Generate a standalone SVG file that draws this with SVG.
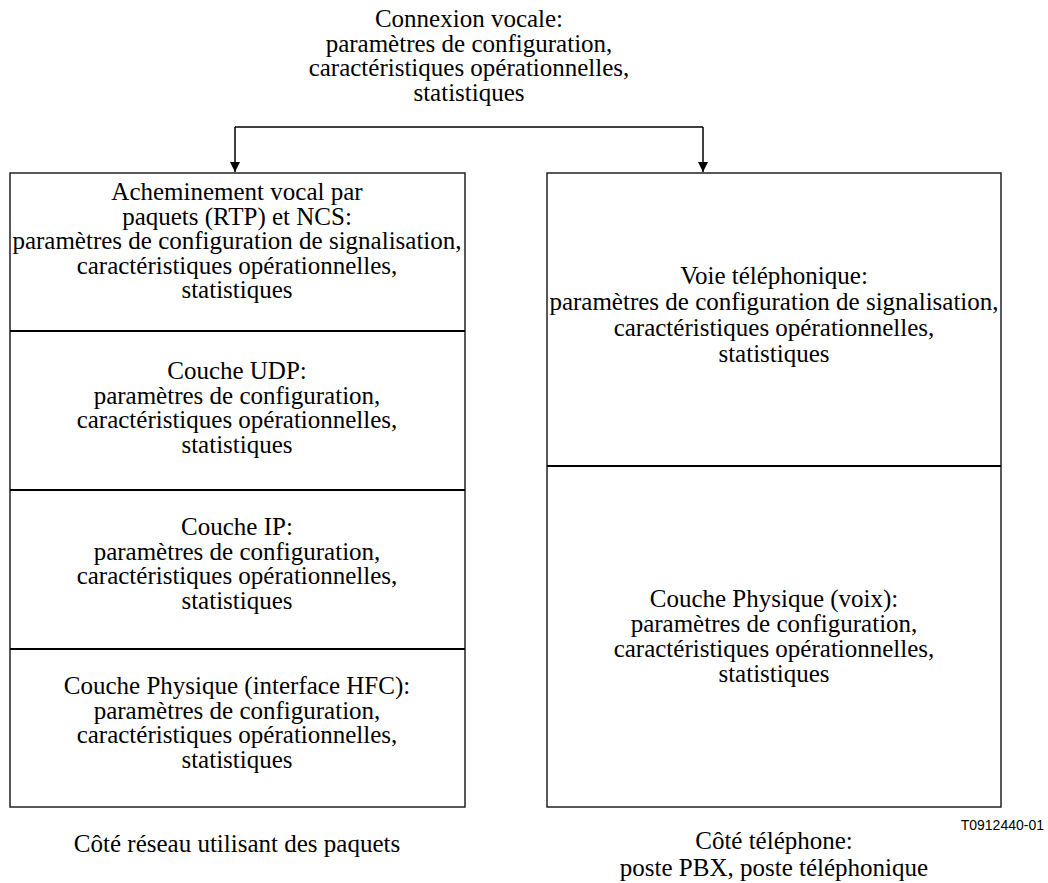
<svg xmlns="http://www.w3.org/2000/svg" width="1048" height="883" viewBox="0 0 1048 883">
  <style>
    .t { font-family: "Liberation Serif", "Times New Roman", serif; font-size: 25px; fill: #000; text-anchor: middle; }
    .code { font-family: "Liberation Sans", Arial, sans-serif; font-size: 14px; fill: #000; text-anchor: end; }
    .box { fill: #fff; stroke: #222; stroke-width: 1.5; }
    .div { stroke: #000; stroke-width: 2; }
    .conn { fill: none; stroke: #000; stroke-width: 1.5; }
  </style>
  <defs>
    <marker id="arrow" markerWidth="10" markerHeight="12" refX="10" refY="6" orient="auto" markerUnits="userSpaceOnUse">
      <path d="M0,1 L10,6 L0,11 Z" fill="#000"/>
    </marker>
  </defs>
  <rect width="1048" height="883" fill="#fff"/>

  <g id="source">
    <text class="t" x="469" y="27">Connexion vocale:</text>
    <text class="t" x="469" y="51.5">paramètres de configuration,</text>
    <text class="t" x="469" y="76">caractéristiques opérationnelles,</text>
    <text class="t" x="469" y="100.5">statistiques</text>
  </g>

  <g id="connectors">
    <path class="conn" d="M235,127 H703"/>
    <path class="conn" d="M235,127 V172" marker-end="url(#arrow)"/>
    <path class="conn" d="M703,127 V172" marker-end="url(#arrow)"/>
  </g>

  <g id="packet-side">
    <rect class="box" x="10" y="173" width="455" height="634"/>
    <line class="div" x1="10" y1="331" x2="465" y2="331"/>
    <line class="div" x1="10" y1="490" x2="465" y2="490"/>
    <line class="div" x1="10" y1="649" x2="465" y2="649"/>
  </g>

  <g id="rtp-ncs">
    <text class="t" x="237" y="200">Acheminement vocal par</text>
    <text class="t" x="237" y="224.5">paquets (RTP) et NCS:</text>
    <text class="t" x="237" y="249">paramètres de configuration de signalisation,</text>
    <text class="t" x="237" y="273.5">caractéristiques opérationnelles,</text>
    <text class="t" x="237" y="298">statistiques</text>
  </g>

  <g id="udp">
    <text class="t" x="237" y="379">Couche UDP:</text>
    <text class="t" x="237" y="403.5">paramètres de configuration,</text>
    <text class="t" x="237" y="428">caractéristiques opérationnelles,</text>
    <text class="t" x="237" y="452.5">statistiques</text>
  </g>

  <g id="ip">
    <text class="t" x="237" y="535">Couche IP:</text>
    <text class="t" x="237" y="559.5">paramètres de configuration,</text>
    <text class="t" x="237" y="584">caractéristiques opérationnelles,</text>
    <text class="t" x="237" y="608.5">statistiques</text>
  </g>

  <g id="hfc">
    <text class="t" x="237" y="694">Couche Physique (interface HFC):</text>
    <text class="t" x="237" y="718.5">paramètres de configuration,</text>
    <text class="t" x="237" y="743">caractéristiques opérationnelles,</text>
    <text class="t" x="237" y="767.5">statistiques</text>
  </g>

  <g id="phone-side">
    <rect class="box" x="547" y="173" width="454" height="634"/>
    <line class="div" x1="547" y1="466" x2="1001" y2="466"/>
  </g>

  <g id="voice-channel">
    <text class="t" x="774" y="284">Voie téléphonique:</text>
    <text class="t" x="774" y="310">paramètres de configuration de signalisation,</text>
    <text class="t" x="774" y="336">caractéristiques opérationnelles,</text>
    <text class="t" x="774" y="362">statistiques</text>
  </g>

  <g id="voice-physical">
    <text class="t" x="774" y="607">Couche Physique (voix):</text>
    <text class="t" x="774" y="632">paramètres de configuration,</text>
    <text class="t" x="774" y="657">caractéristiques opérationnelles,</text>
    <text class="t" x="774" y="682">statistiques</text>
  </g>

  <g id="captions">
    <text class="code" x="1044" y="830">T0912440-01</text>
    <text class="t" x="237" y="852">Côté réseau utilisant des paquets</text>
    <text class="t" x="774" y="849">Côté téléphone:</text>
    <text class="t" x="774" y="876">poste PBX, poste téléphonique</text>
  </g>
</svg>
